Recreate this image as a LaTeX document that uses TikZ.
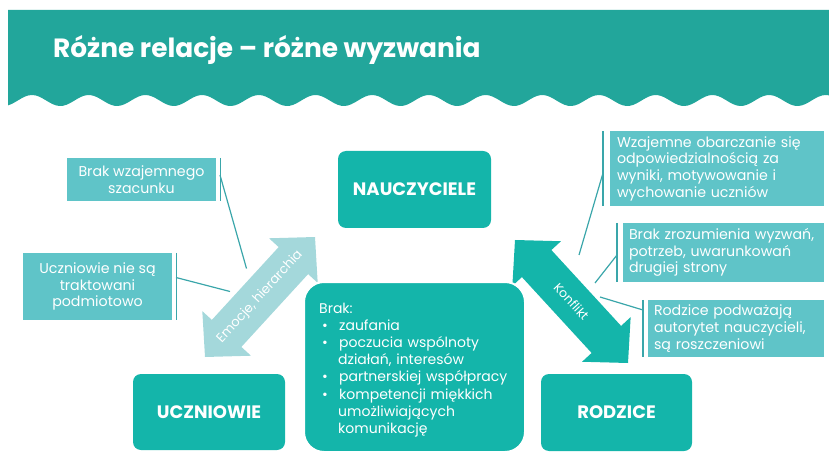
\documentclass[tikz,border=0pt]{standalone}
\usepackage{fontspec}
\setmainfont{Poppins}
\usetikzlibrary{calc}
\definecolor{hdr}{HTML}{22A69B}
\definecolor{mainc}{HTML}{14B5AA}
\definecolor{sidec}{HTML}{5FC4C8}
\definecolor{lightc}{HTML}{A4D8DB}
\definecolor{linec}{HTML}{3AA6AA}
\newcommand{\blockarr}[3]{%
  \coordinate (h1) at ($(#2)!32pt!(#3)$);
  \coordinate (h2) at ($(#3)!32pt!(#2)$);
  \fill[#1] (#2) -- ($(h1)!33pt!90:(#3)$) -- ($(h1)!20pt!90:(#3)$)
    -- ($(h2)!20pt!-90:(#2)$) -- ($(h2)!33pt!-90:(#2)$) -- (#3)
    -- ($(h2)!33pt!90:(#2)$) -- ($(h2)!20pt!90:(#2)$)
    -- ($(h1)!20pt!-90:(#3)$) -- ($(h1)!33pt!-90:(#3)$) -- cycle;}
\newcommand{\lbul}{\makebox[20pt][l]{\hspace{3pt}•}}
\begin{document}
\begin{tikzpicture}[x=1pt,y=-1pt,
  mainbox/.style={fill=mainc, rounded corners=8pt, text=white, inner sep=0pt,
    font=\bfseries\fontsize{18}{21}\selectfont},
  sidebox/.style={fill=sidec, text=white, inner ysep=0pt, inner xsep=4pt,
    font=\fontsize{14.2}{16.7}\selectfont},
  arrlabel/.style={text=white, inner sep=0pt},
  conn/.style={draw=linec, line width=1.2pt},
  sidebar/.style={draw=linec, line width=1.4pt}]
\useasboundingbox (0,0) rectangle (829,462);
% header
\fill[hdr] (8,10) -- (829,10) -- plot[domain=829:8, samples=240]
  (\x, {100.5-5.5*cos(deg(2*pi*(\x-32)/56.7))}) -- cycle;
\node[anchor=base west, inner sep=0pt, text=white,
  font=\bfseries\fontsize{26.4}{30}\selectfont] (title) at (53,58)
  {Różne relacje – różne wyzwania};
% block arrows
\coordinate (la1) at (205,357); \coordinate (la2) at (315,237);
\coordinate (ra1) at (515,240); \coordinate (ra2) at (628,363);
\blockarr{lightc}{la1}{la2}
\blockarr{mainc}{ra1}{ra2}
\path (la1) -- (la2) node[midway, sloped, arrlabel, font=\fontsize{13}{15}\selectfont] (emo) {Emocje, hierarchia};
\path (ra1) -- (ra2) node[midway, sloped, arrlabel, font=\fontsize{12.5}{15}\selectfont] (konf) {Konflikt};
% main boxes
\node[mainbox, minimum width=153pt, minimum height=77pt] (nau) at (414.5,189.5) {NAUCZYCIELE};
\node[mainbox, minimum width=152pt, minimum height=76pt] (ucz) at (209,412) {UCZNIOWIE};
\node[mainbox, minimum width=151pt, minimum height=77pt] (rod) at (616.5,412.5) {RODZICE};
\node[fill=mainc, draw=white, line width=2pt, rounded corners=20pt,
  minimum width=221pt, minimum height=170pt] (brak) at (414.5,367) {};
\node[anchor=north west, inner sep=0pt, text=white, text width=195pt, align=left,
  font=\fontsize{14}{17.2}\selectfont] (braktxt) at (319,302.5)
  {Brak:\\\lbul zaufania\\\lbul poczucia wspólnoty\\\hspace*{19pt}działań, interesów\\\lbul partnerskiej współpracy\\\lbul kompetencji miękkich\\\hspace*{19pt}umożliwiających\\\hspace*{19pt}komunikację};
% side boxes
\node[sidebox, minimum width=149pt, minimum height=43pt, align=center] (s1) at (141.5,179.5) {Brak wzajemnego\\szacunku};
\node[sidebox, minimum width=149pt, minimum height=67pt, align=center] (s2) at (97.5,286.5) {Uczniowie nie są\\traktowani\\podmiotowo};
\node[sidebox, minimum height=75pt, text width=200pt, inner xsep=7pt, align=left] (s3) at (717,168.5) {Wzajemne obarczanie się\\odpowiedzialnością za\\wyniki, motywowanie i\\wychowanie uczniów};
\node[sidebox, minimum height=59pt, text width=189pt, inner xsep=6pt, align=left] (s4) at (723.5,252.5) {Brak zrozumienia wyzwań,\\potrzeb, uwarunkowań\\drugiej strony};
\node[sidebox, minimum height=57pt, text width=164pt, inner xsep=6pt, align=left] (s5) at (736,328.5) {Rodzice podważają\\autorytet nauczycieli,\\są roszczeniowi};
% side bars
\draw[sidebar] ($(s1.north east)+(4,0)$) -- ($(s1.south east)+(4,0)$);
\draw[sidebar] ($(s2.north east)+(4,0)$) -- ($(s2.south east)+(4,0)$);
\draw[sidebar] ($(s3.north west)+(-7,0)$) -- ($(s3.south west)+(-7,0)$);
\draw[sidebar] ($(s4.north west)+(-6,0)$) -- ($(s4.south west)+(-6,0)$);
\draw[sidebar] ($(s5.north west)+(-5,0)$) -- ($(s5.south west)+(-5,0)$);
% connectors
\coordinate (b1) at (220,175);   \coordinate (e1) at (246.5,268.5);
\coordinate (b2) at (176,277.5); \coordinate (e2) at (230,291.5);
\coordinate (b3) at (603,173);   \coordinate (e3) at (579,255);
\coordinate (b4) at (617,255);   \coordinate (e4) at (595,283);
\coordinate (b5) at (643,310);   \coordinate (e5) at (600,297);
\draw[conn] (b1) -- (e1);
\draw[conn] (b2) -- (e2);
\draw[conn] (b3) -- (e3);
\draw[conn] (b4) -- (e4);
\draw[conn] (b5) -- (e5);
\end{tikzpicture}
\end{document}
